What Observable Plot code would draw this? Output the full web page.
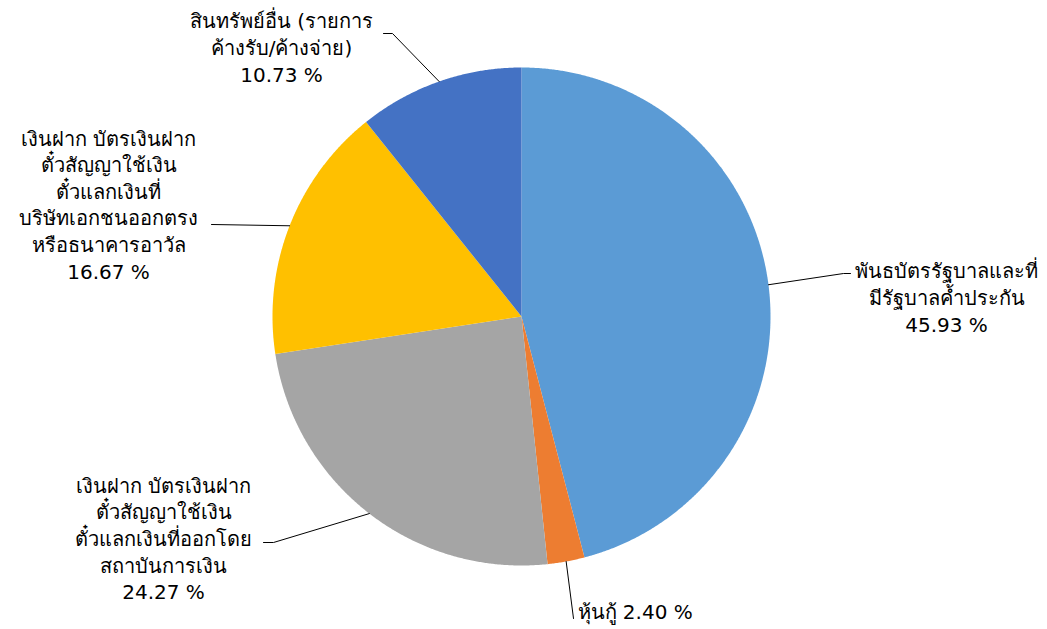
<!DOCTYPE html>
<html>
<head>
<meta charset="utf-8">
<script src="https://cdn.jsdelivr.net/npm/d3@7"></script>
<script src="https://cdn.jsdelivr.net/npm/@observablehq/plot@0.6"></script>
<style>
  html, body { margin: 0; padding: 0; background: #fff; }
  #chart svg { display: block; }
</style>
</head>
<body>
<div id="chart"></div>
<script>
// ---- Data ----
const categories = [
  "พันธบัตรรัฐบาลและที่\nมีรัฐบาลค้ำประกัน",
  "หุ้นกู้",
  "เงินฝาก บัตรเงินฝาก\nตั๋วสัญญาใช้เงิน\nตั๋วแลกเงินที่ออกโดย\nสถาบันการเงิน",
  "เงินฝาก บัตรเงินฝาก\nตั๋วสัญญาใช้เงิน\nตั๋วแลกเงินที่\nบริษัทเอกชนออกตรง\nหรือธนาคารอาวัล",
  "สินทรัพย์อื่น (รายการ\nค้างรับ/ค้างจ่าย)"
];
const values = [45.93, 2.40, 24.27, 16.67, 10.73];
const sliceColors = ["#5B9BD5", "#ED7D31", "#A5A5A5", "#FFC000", "#4472C4"];
const labelSeparators = ["\n", " ", "\n", "\n", "\n"];

// ---- Layout (pixels) ----
const W = 1047, H = 629;
const cx = 521, cy = 316, R = 249;
// label anchor, text anchor, leader elbow points (after the edge point)
const labelLayout = [
  {x: 946, y: 296, anchor: "middle", elbow: [[843, 273], [850, 273]]},
  {x: 577, y: 610, anchor: "start",  elbow: [[573, 618]]},
  {x: 163, y: 537, anchor: "middle", elbow: [[273, 542], [263, 542]]},
  {x: 108, y: 203, anchor: "middle", elbow: [[211, 224]]},
  {x: 281, y: 46,  anchor: "middle", elbow: [[392, 33], [383, 33]]}
];

const arcs = d3.pie().sort(null)(values);
const pt = (a, r) => [cx + r * Math.sin(a), cy - r * Math.cos(a)];

const slicePts = [];
arcs.forEach((arc, i) => {
  slicePts.push({slice: i, x: cx, y: cy, color: sliceColors[i]});
  const n = Math.max(4, Math.ceil((arc.endAngle - arc.startAngle) / 0.005));
  for (let k = 0; k <= n; k++) {
    const a = arc.startAngle + (arc.endAngle - arc.startAngle) * k / n;
    const [x, y] = pt(a, R);
    slicePts.push({slice: i, x, y, color: sliceColors[i]});
  }
});

const leaderPts = [];
arcs.forEach((arc, i) => {
  const mid = (arc.startAngle + arc.endAngle) / 2;
  const [x, y] = pt(mid, R);
  leaderPts.push({id: i, x, y});
  labelLayout[i].elbow.forEach(([ex, ey]) => leaderPts.push({id: i, x: ex, y: ey}));
});

const labelData = categories.map((c, i) => ({
  text: c + labelSeparators[i] + values[i].toFixed(2) + " %",
  x: labelLayout[i].x, y: labelLayout[i].y, anchor: labelLayout[i].anchor
}));

const font = "Tahoma, 'DejaVu Sans', 'Noto Sans', sans-serif";

const chart = Plot.plot({
  width: W, height: H,
  margin: 0,
  x: {domain: [0, W], range: [0, W], axis: null},
  y: {domain: [0, H], range: [0, H], axis: null},
  style: {fontFamily: font, background: "#fff"},
  marks: [
    Plot.line(slicePts, {x: "x", y: "y", z: "slice", fill: "color", stroke: "none", curve: "linear-closed"}),
    Plot.line(leaderPts, {x: "x", y: "y", z: "id", stroke: "#000", strokeWidth: 1}),
    Plot.text(labelData.filter(d => d.anchor === "middle"), {
      x: "x", y: "y", text: "text", textAnchor: "middle", fontSize: 20, lineHeight: 1.33, fill: "#000"
    }),
    Plot.text(labelData.filter(d => d.anchor === "start"), {
      x: "x", y: "y", text: "text", textAnchor: "start", fontSize: 20, lineHeight: 1.33, fill: "#000"
    })
  ]
});
document.getElementById("chart").appendChild(chart);
</script>
</body>
</html>
